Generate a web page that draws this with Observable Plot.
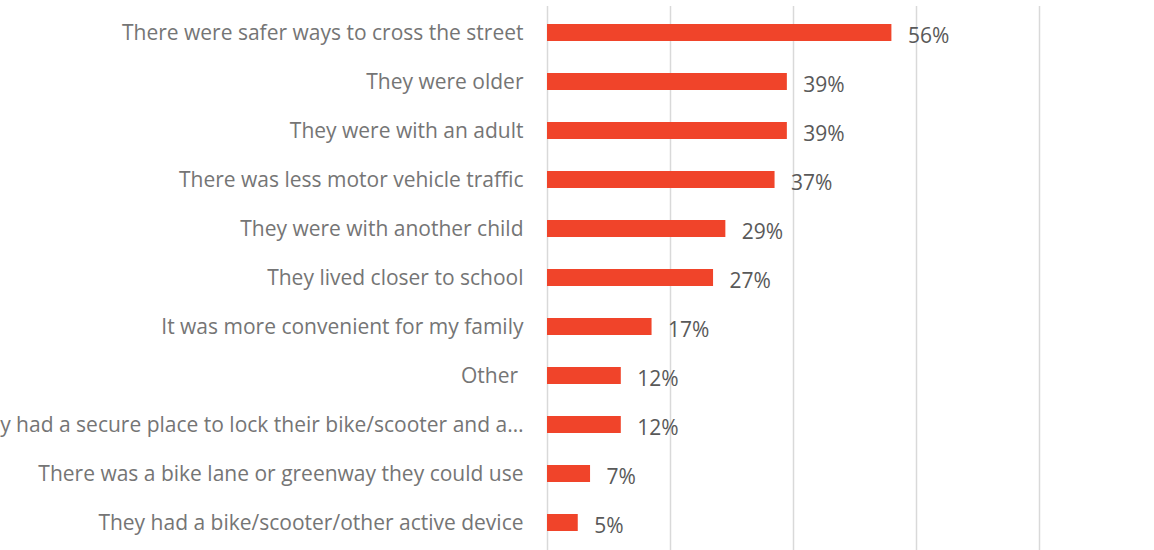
<!DOCTYPE html>
<html>
<head>
<meta charset="utf-8">
<script src="https://cdn.jsdelivr.net/npm/d3@7"></script>
<script src="https://cdn.jsdelivr.net/npm/@observablehq/plot@0.6"></script>
<style>
  body { margin: 0; background: #fff; overflow: hidden; }
  #chart svg { display: block; }
</style>
</head>
<body>
<div id="chart"></div>
<script>
// Reasons parents gave, top to bottom, and the share choosing each
const reasons = [
  "There were safer ways to cross the street",
  "They were older",
  "They were with an adult",
  "There was less motor vehicle traffic",
  "They were with another child",
  "They lived closer to school",
  "It was more convenient for my family",
  "Other ",
  "They had a secure place to lock their bike/scooter and a…",
  "There was a bike lane or greenway they could use",
  "They had a bike/scooter/other active device"
];
const shares = [56, 39, 39, 37, 29, 27, 17, 12, 12, 7, 5];
const gridTicks = [0, 20, 40, 60, 80];

const rows = reasons.map((reason, i) => ({reason, share: shares[i]}));

const chart = Plot.plot({
  width: 1154,
  height: 550,
  marginLeft: 547,
  marginRight: 115,
  marginTop: 6,
  marginBottom: 0,
  style: {fontFamily: "'Open Sans', sans-serif", fontSize: "21px", color: "#595959", background: "#fff"},
  x: {domain: [0, 80], axis: null},
  y: {domain: reasons, paddingInner: 0.65, paddingOuter: 0.3, align: 0.5, label: null},
  marks: [
    Plot.ruleX(gridTicks, {stroke: "#d9d9d9", strokeWidth: 1.5}),
    Plot.barX(rows, {x: "share", y: "reason", fill: "#f0442a"}),
    Plot.text(rows, {
      x: "share", y: "reason", text: d => `${d.share}%`,
      textAnchor: "start", dx: 16, dy: 3, fill: "#595959", fontSize: 21
    }),
    Plot.axisY({tickSize: 0, tickPadding: 24, fontSize: 21, fill: "#757575", label: null})
  ]
});

document.getElementById("chart").append(chart);
</script>
</body>
</html>
